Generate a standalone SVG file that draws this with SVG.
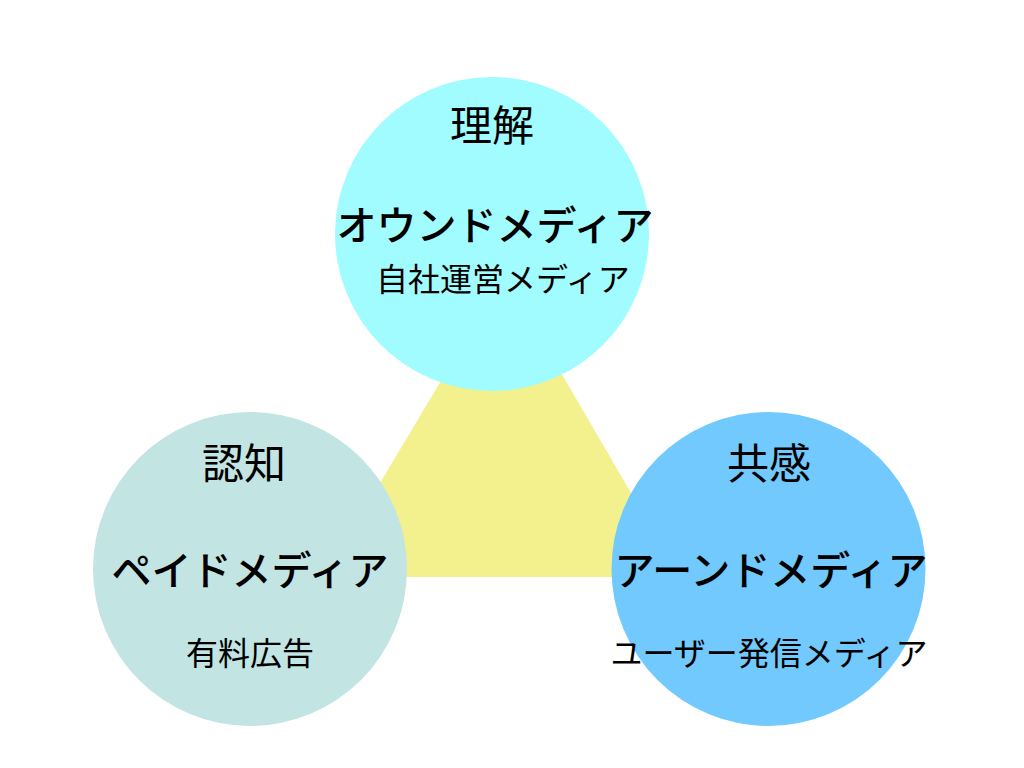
<svg xmlns="http://www.w3.org/2000/svg" width="1024" height="768" viewBox="0 0 1024 768">
<style>
text{font-family:"Noto Sans CJK JP","Noto Sans",sans-serif;fill:#000;text-anchor:middle}
.h{font-size:42px}
.m{font-size:40px;font-weight:500}
.s{font-size:32px}
</style>
<rect width="1024" height="768" fill="#fff"/>
<polygon id="triangle" points="504,275 324,577 680,577" fill="#F3F18E"/>
<g id="top">
<circle cx="492" cy="234" r="157" fill="#A0FCFE"/>
<text class="h" x="492" y="141">理解</text>
<text class="m" x="495" y="240">オウンドメディア</text>
<text class="s" x="503" y="291">自社運営メディア</text>
</g>
<g id="left">
<circle cx="250" cy="569" r="157" fill="#C2E4E2"/>
<text class="h" x="244" y="479">認知</text>
<text class="m" x="250" y="585">ペイドメディア</text>
<text class="s" x="250" y="665">有料広告</text>
</g>
<g id="right">
<circle cx="768.5" cy="569" r="157" fill="#71C9FD"/>
<text class="h" x="769" y="479">共感</text>
<text class="m" x="771" y="585">アーンドメディア</text>
<text class="s" x="769" y="665">ユーザー発信メディア</text>
</g>
</svg>
